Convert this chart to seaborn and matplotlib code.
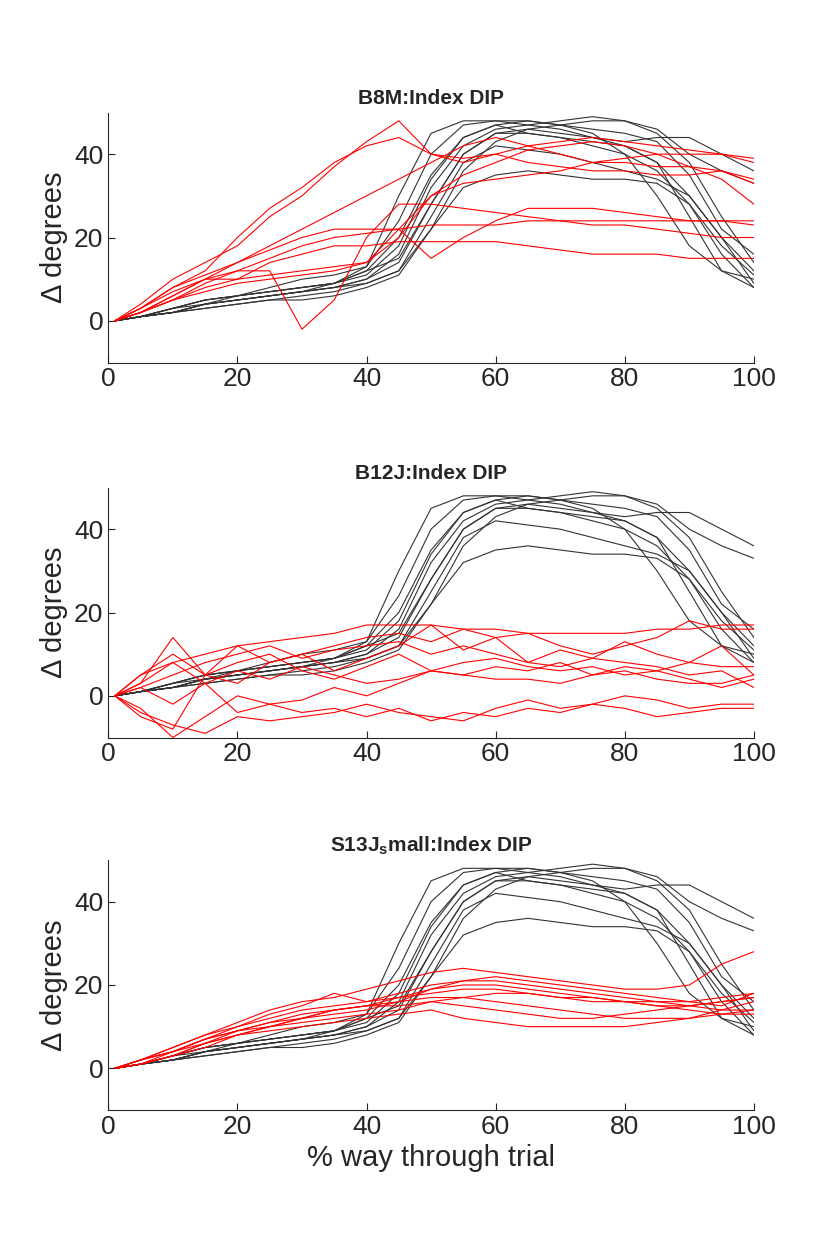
import numpy as np
import pandas as pd
import matplotlib
matplotlib.use("Agg")
import matplotlib.pyplot as plt
import seaborn as sns

sns.set_style("white")
plt.rcParams['font.family'] = ['Liberation Sans', 'DejaVu Sans']

pct = [1, 5, 10, 15, 20, 25, 30, 35, 40, 45, 50, 55, 60, 65, 70, 75, 80, 85, 90, 95, 100]

# black reference curves (same in every panel)
black = [
    [0, 1, 3, 5, 6, 7, 8, 9, 12, 20, 35, 44, 47, 48, 47, 45, 40, 30, 18, 12, 10],
    [0, 1, 2, 4, 5, 6, 7, 8, 10, 14, 28, 40, 45, 46, 45, 44, 42, 38, 30, 20, 12],
    [0, 1, 3, 5, 6, 7, 8, 9, 13, 30, 45, 48, 48, 47, 46, 44, 43, 44, 44, 40, 36],
    [0, 1, 2, 3, 4, 5, 6, 7, 9, 12, 22, 36, 43, 46, 47, 48, 48, 45, 38, 25, 14],
    [0, 1, 3, 4, 5, 6, 7, 8, 10, 16, 32, 42, 46, 47, 48, 49, 48, 46, 40, 36, 33],
    [0, 1, 2, 4, 5, 6, 7, 8, 9, 12, 25, 38, 42, 41, 40, 38, 36, 34, 30, 20, 9],
    [0, 1, 2, 3, 4, 5, 5, 6, 8, 11, 22, 32, 35, 36, 35, 34, 34, 33, 28, 16, 8],
    [0, 1, 3, 5, 6, 7, 8, 9, 11, 18, 34, 44, 47, 45, 44, 43, 42, 38, 25, 12, 8],
    [0, 1, 2, 4, 5, 6, 7, 9, 12, 15, 28, 40, 45, 45, 44, 42, 40, 36, 28, 18, 11],
    [0, 1, 2, 4, 6, 8, 10, 11, 13, 24, 40, 47, 48, 48, 47, 46, 45, 43, 35, 22, 16],
]

red_b8m = [
    [0, 4, 10, 14, 18, 25, 30, 37, 43, 48, 40, 38, 40, 42, 43, 44, 43, 42, 41, 40, 38],
    [0, 3, 8, 12, 20, 27, 32, 38, 42, 44, 40, 39, 40, 38, 37, 36, 36, 35, 35, 36, 34],
    [0, 2, 6, 10, 10, 14, 16, 18, 18, 19, 19, 19, 19, 18, 17, 16, 16, 16, 15, 15, 15],
    [0, 3, 8, 11, 14, 17, 20, 22, 22, 22, 23, 23, 23, 24, 24, 24, 24, 24, 24, 24, 24],
    [0, 2, 6, 10, 12, 12, -2, 5, 20, 28, 28, 27, 26, 25, 24, 23, 23, 22, 21, 20, 20],
    [0, 2, 5, 8, 10, 11, 12, 13, 14, 22, 30, 33, 34, 35, 36, 38, 39, 40, 40, 40, 39],
    [0, 2, 5, 9, 12, 15, 18, 20, 21, 22, 15, 20, 24, 27, 27, 27, 26, 25, 24, 24, 23],
    [0, 3, 7, 10, 14, 18, 22, 26, 30, 34, 38, 42, 44, 42, 40, 38, 38, 37, 37, 36, 33],
    [0, 2, 5, 7, 9, 10, 11, 12, 14, 20, 30, 35, 38, 41, 42, 43, 42, 40, 37, 34, 28],
]

red_b12j = [
    [0, 3, 8, 10, 12, 13, 14, 15, 17, 17, 17, 16, 16, 15, 15, 15, 15, 16, 16, 17, 17],
    [0, -5, -8, 5, 3, 8, 10, 12, 14, 15, 13, 16, 14, 15, 12, 10, 12, 14, 18, 16, 16],
    [0, 5, 10, 5, 8, 10, 6, 4, 7, 10, 6, 8, 9, 7, 6, 7, 5, 6, 8, 7, 7],
    [0, -3, -10, -5, 0, -2, -4, -3, -5, -3, -6, -4, -5, -3, -4, -2, -3, -5, -4, -3, -3],
    [0, 2, -2, 3, -4, -2, -1, 2, 0, 3, 6, 5, 4, 4, 3, 5, 6, 4, 3, 3, 5],
    [0, 3, 14, 5, 12, 8, 10, 6, 9, 12, 17, 11, 14, 8, 11, 9, 13, 10, 8, 12, 5],
    [0, -4, -7, -9, -5, -6, -5, -4, -2, -4, -5, -6, -3, -1, -3, -2, 0, -1, -3, -2, -2],
    [0, 2, 5, 8, 10, 12, 9, 11, 12, 13, 10, 12, 10, 8, 7, 9, 8, 7, 5, 6, 2],
    [0, 5, 8, 3, 6, 4, 7, 5, 3, 4, 6, 5, 7, 6, 8, 5, 7, 6, 4, 2, 4],
]

red_s13j = [
    [0, 2, 5, 8, 11, 14, 16, 17, 19, 21, 23, 24, 23, 22, 21, 20, 19, 19, 20, 25, 28],
    [0, 2, 4, 7, 10, 12, 14, 15, 16, 18, 20, 21, 21, 20, 19, 18, 17, 16, 15, 16, 17],
    [0, 1, 4, 7, 9, 11, 12, 14, 15, 17, 18, 19, 19, 18, 17, 16, 16, 15, 15, 14, 14],
    [0, 2, 5, 8, 10, 13, 15, 18, 16, 17, 19, 20, 20, 19, 18, 17, 16, 16, 16, 15, 18],
    [0, 1, 3, 6, 9, 11, 13, 14, 15, 15, 16, 15, 14, 13, 12, 12, 13, 14, 15, 16, 17],
    [0, 2, 4, 7, 9, 10, 11, 12, 13, 14, 16, 17, 18, 18, 17, 17, 16, 15, 14, 13, 13],
    [0, 1, 3, 6, 8, 10, 12, 14, 15, 16, 17, 17, 16, 15, 14, 13, 12, 12, 12, 13, 14],
    [0, 1, 3, 5, 8, 10, 12, 13, 14, 16, 19, 21, 22, 21, 20, 19, 18, 17, 16, 17, 18],
    [0, 2, 4, 6, 8, 9, 10, 11, 12, 13, 14, 12, 11, 10, 10, 10, 10, 11, 12, 14, 16],
]

titles = ["B8M:Index DIP", "B12J:Index DIP", "S13J$_\\mathregular{s}$mall:Index DIP"]
reds = [red_b8m, red_b12j, red_s13j]


def to_long(curves, tag):
    rows = []
    for i, c in enumerate(curves):
        for x, y in zip(pct, c):
            rows.append({"pct": x, "deg": y, "line": f"{tag}{i}"})
    return pd.DataFrame(rows)


fig = plt.figure(figsize=(8.33, 12.5), dpi=100)
bottoms = [0.71, 0.41, 0.112]
for k in range(3):
    ax = fig.add_axes([0.13, bottoms[k], 0.775, 0.2])
    df_b = to_long(black, "b")
    df_r = to_long(reds[k], "r")
    sns.lineplot(data=df_b, x="pct", y="deg", units="line", estimator=None,
                 color="#333333", lw=0.8, ax=ax)
    sns.lineplot(data=df_r, x="pct", y="deg", units="line", estimator=None,
                 color="red", lw=0.8, ax=ax)
    ax.set_xlim(0, 100)
    ax.set_ylim(-10, 50)
    ax.set_xticks([0, 20, 40, 60, 80, 100])
    ax.set_yticks([0, 20, 40])
    ax.tick_params(direction="in", labelsize=19, colors="#262626", length=5,
                   bottom=True, left=True)
    for s in ["top", "right"]:
        ax.spines[s].set_visible(False)
    ax.set_title(titles[k], fontsize=15, fontweight="bold")
    ax.set_ylabel("Δ degrees", fontsize=21, color="#262626")
    ax.set_xlabel("% way through trial" if k == 2 else "", fontsize=21, color="#262626")

fig.savefig("out.png", dpi=100)
